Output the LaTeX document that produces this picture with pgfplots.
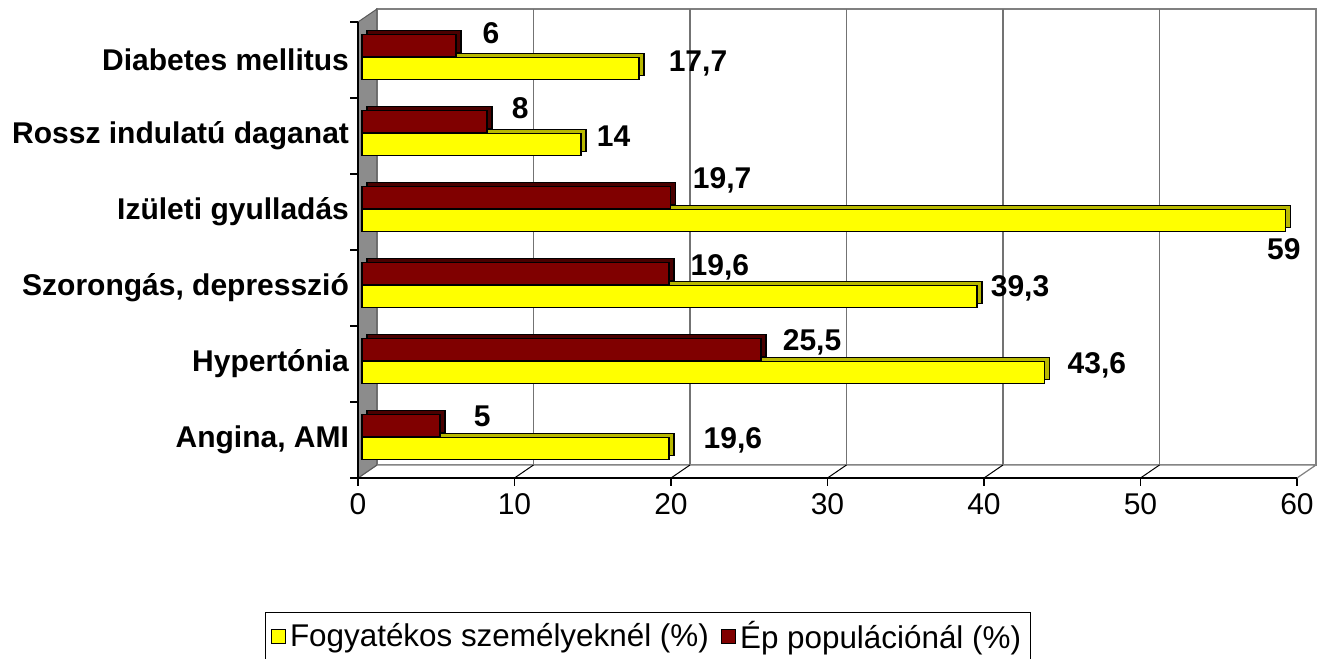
\documentclass[border=0pt]{standalone}
\usepackage{pgfplots}
\pgfplotsset{compat=1.18}
\usepackage{pgfplotstable}
\usepackage{fontspec}
\setmainfont{Liberation Sans}
\definecolor{fogy}{HTML}{FFFF00}
\definecolor{fogyD}{HTML}{B8B800}
\definecolor{ep}{HTML}{800000}
\definecolor{epD}{HTML}{4A0000}
\definecolor{wall}{HTML}{8C8C8C}

% yellow series: Fogyatekos szemelyeknel (%)
\pgfplotstableread{
y     val   dx    dy
0.39  19.6  17.1  4.2
1.39  43.6  11.3  3.7
2.39  39.3  6.5   4.2
3.39  59    -9.5  -14.2
4.39  14    7.5   4.2
5.39  17.7  14.5  2.2
}\fogytable

% red series: Ep populacional (%)
\pgfplotstableread{
y     val   dx    dy
0.69  5     16.4  4.8
1.69  25.5  10.5  3.8
2.69  19.6  10.6  3.3
3.69  19.7  10.9  8.8
4.69  8     11.9  6.8
5.69  6     13.0  6.3
}\eptable

\begin{document}
\begin{tikzpicture}
\begin{axis}[
  scale only axis, width=469.5pt, height=228pt,
  xmin=0, xmax=60, ymin=0, ymax=6,
  clip=false,
  axis x line*=bottom, axis y line*=left,
  axis line style={black, line width=0.6pt},
  xtick={0,10,...,60},
  tick align=outside,
  major tick length=4pt,
  x tick style={black, line width=0.6pt},
  ytick={0.5,1.5,...,5.5},
  yticklabels={{Angina, AMI},Hypertónia,{Szorongás, depresszió},Izületi gyulladás,Rossz indulatú daganat,Diabetes mellitus},
  y tick style={draw=none},
  yticklabel style={font=\bfseries\fontsize{15}{18}\selectfont, xshift=3pt},
  xticklabel style={font=\fontsize{15}{18}\selectfont},
  /pgf/number format/assume math mode=true,
  legend style={at={(0.3088,-0.2939)}, anchor=north, legend columns=2,
    draw=black, line width=0.6pt, font=\fontsize{15.7}{19}\selectfont,
    inner sep=2.5pt,
    /tikz/every even column/.append style={column sep=4pt}},
  legend image code/.code={\draw[#1, draw=black, line width=0.6pt] (0pt,-3.5pt) rectangle (7pt,3.5pt);},
]
% back wall
\draw[gray, fill=white, line width=0.6pt] ([shift={(9.5pt,6.5pt)}]axis cs:0,0) rectangle ([shift={(9.5pt,6.5pt)}]axis cs:60,6);
\pgfplotsinvokeforeach{10,20,30,40,50}{
  \draw[gray!90!black, line width=0.6pt] ([shift={(9.5pt,6.5pt)}]axis cs:#1,0) -- ([shift={(9.5pt,6.5pt)}]axis cs:#1,6);
}
% floor
\draw[gray, fill=white, line width=0.6pt] (axis cs:0,0) -- (axis cs:60,0) -- ([shift={(9.5pt,6.5pt)}]axis cs:60,0) -- ([shift={(9.5pt,6.5pt)}]axis cs:0,0) -- cycle;
\pgfplotsinvokeforeach{10,20,30,40,50}{
  \draw[black, line width=0.5pt] (axis cs:#1,0) -- ([shift={(9.5pt,6.5pt)}]axis cs:#1,0);
}
% left wall
\draw[gray!70!black, fill=wall, line width=0.5pt] (axis cs:0,0) -- (axis cs:0,6) -- ([shift={(9.5pt,6.5pt)}]axis cs:0,6) -- ([shift={(9.5pt,6.5pt)}]axis cs:0,0) -- cycle;

% yellow bars (depth face first)
\addplot[xbar, bar width=0.29, bar shift=0pt, fill=fogyD, draw=black, line width=0.8pt, xshift=4.5pt, yshift=2pt, forget plot]
  table[x=val, y=y] {\fogytable};
\addplot[xbar, bar width=0.29, bar shift=0pt, fill=fogy, draw=black, line width=0.8pt, xshift=2pt,
  point meta=x,
  visualization depends on={\thisrow{dx} \as \dxv},
  visualization depends on={\thisrow{dy} \as \dyv},
  nodes near coords={\pgfmathprintnumber[use comma,fixed,precision=1]{\pgfplotspointmeta}},
  every node near coord/.append style={anchor=west, inner sep=0pt, xshift=\dxv pt, yshift=\dyv pt, font=\bfseries\fontsize{15}{18}\selectfont, text=black},
  ]
  table[x=val, y=y] {\fogytable};
\addlegendentry{Fogyatékos személyeknél (\%)}

% red bars
\addplot[xbar, bar width=0.29, bar shift=0pt, fill=epD, draw=black, line width=0.8pt, xshift=4.5pt, yshift=2pt, forget plot]
  table[x=val, y=y] {\eptable};
\addplot[xbar, bar width=0.29, bar shift=0pt, fill=ep, draw=black, line width=0.8pt, xshift=2pt,
  point meta=x,
  visualization depends on={\thisrow{dx} \as \dxv},
  visualization depends on={\thisrow{dy} \as \dyv},
  nodes near coords={\pgfmathprintnumber[use comma,fixed,precision=1]{\pgfplotspointmeta}},
  every node near coord/.append style={anchor=west, inner sep=0pt, xshift=\dxv pt, yshift=\dyv pt, font=\bfseries\fontsize{15}{18}\selectfont, text=black},
  ]
  table[x=val, y=y] {\eptable};
\addlegendentry{Ép populációnál (\%)}

% front axis lines and left ticks
\draw[black, line width=0.6pt] (axis cs:0,0) -- (axis cs:60,0);
\draw[black, line width=0.6pt] (axis cs:0,0) -- (axis cs:0,6);
\pgfplotsinvokeforeach{0,1,2,3,4,5,6}{
  \draw[black, line width=0.6pt] (axis cs:0,#1) -- ++(-4pt,0);
}
\coordinate (bbSW) at (rel axis cs:-0.38126,-0.39693);
\coordinate (bbNE) at (rel axis cs:1.02130,1.04825);
\end{axis}
\pgfresetboundingbox
\useasboundingbox (bbSW) rectangle (bbNE);
\end{tikzpicture}
\end{document}
